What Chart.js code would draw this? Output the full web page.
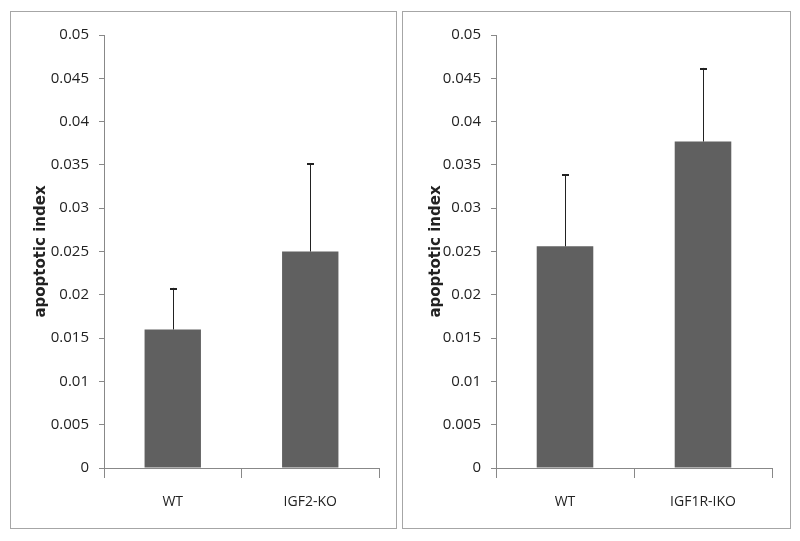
<!DOCTYPE html>
<html>
<head>
<meta charset="utf-8">
<script src="https://cdn.jsdelivr.net/npm/chart.js@4"></script>
<style>
  body { margin: 0; background: #fff; width: 800px; height: 541px; overflow: hidden; }
  .panel { position: absolute; top: 11px; height: 516px; border: 1px solid #a6a6a6; }
  #left { left: 10px; width: 385px; }
  #right { left: 402px; width: 387px; }
</style>
</head>
<body>
<div class="panel" id="left"><canvas id="chartLeft" width="385" height="516"></canvas></div>
<div class="panel" id="right"><canvas id="chartRight" width="387" height="516"></canvas></div>
<script>
const yTicks = ["0", "0.005", "0.01", "0.015", "0.02", "0.025", "0.03", "0.035", "0.04", "0.045", "0.05"]

const leftLabels = ["WT", "IGF2-KO"]
const leftValues = [0.016, 0.025]
const leftErrors = [0.0048, 0.0102]

const rightLabels = ["WT", "IGF1R-IKO"]
const rightValues = [0.0256, 0.0377]
const rightErrors = [0.0083, 0.0085]

const axisColor = "#888888"
const textColor = "#222"

// draws the upper error bar on top of each bar
const errorBars = {
    id: "errorBars",
    afterDatasetsDraw(chart, args, opts) {
        const ctx = chart.ctx
        const y = chart.scales.y
        const ds = chart.data.datasets[0]
        chart.getDatasetMeta(0).data.forEach((bar, i) => {
            const top = y.getPixelForValue(ds.data[i] + opts.errors[i])
            ctx.save()
            ctx.strokeStyle = "#222"
            ctx.lineWidth = 1
            ctx.beginPath()
            ctx.moveTo(Math.round(bar.x) + 0.5, bar.y)
            ctx.lineTo(Math.round(bar.x) + 0.5, top)
            ctx.stroke()
            ctx.lineWidth = 2
            ctx.beginPath()
            ctx.moveTo(Math.round(bar.x) - 3, Math.round(top) + 1)
            ctx.lineTo(Math.round(bar.x) + 4, Math.round(top) + 1)
            ctx.stroke()
            ctx.restore()
        })
    }
}

function makeChart(id, labels, values, errors, titlePad, rightPad) {
    return new Chart(document.getElementById(id).getContext("2d"), {
        type: "bar",
        data: {
            labels: labels,
            datasets: [{
                data: values,
                backgroundColor: "#606060",
                borderWidth: 0,
                categoryPercentage: 1,
                barPercentage: 0.41
            }]
        },
        options: {
            responsive: false,
            animation: false,
            events: [],
            layout: { padding: { left: 0, top: 23, right: rightPad, bottom: 0 } },
            plugins: {
                legend: { display: false },
                tooltip: { enabled: false },
                errorBars: { errors: errors }
            },
            scales: {
                x: {
                    afterFit: s => { s.height = 60 },
                    grid: { drawOnChartArea: false, drawTicks: true, tickLength: 10, color: axisColor },
                    border: { color: axisColor, width: 1 },
                    ticks: { padding: 16, color: textColor, font: { family: "Open Sans", size: 14 } }
                },
                y: {
                    min: 0,
                    max: 0.05,
                    afterFit: s => { s.width = 93 },
                    afterBuildTicks: s => { s.ticks = yTicks.map((t, i) => ({ value: i * 0.005 })) },
                    grid: { drawOnChartArea: false, drawTicks: true, tickLength: 5, color: axisColor },
                    border: { color: axisColor, width: 1 },
                    ticks: {
                        padding: 10,
                        color: textColor,
                        font: { family: "Open Sans", size: 15 },
                        callback: (v, i) => yTicks[i]
                    },
                    title: {
                        display: true,
                        text: "apoptotic index",
                        color: textColor,
                        padding: { top: titlePad, bottom: 0 },
                        font: { family: "DejaVu Sans", size: 15, weight: "bold" }
                    }
                }
            }
        },
        plugins: [errorBars]
    })
}

makeChart("chartLeft", leftLabels, leftValues, leftErrors, 21, 17)
makeChart("chartRight", rightLabels, rightValues, rightErrors, 24, 18)
</script>
</body>
</html>
